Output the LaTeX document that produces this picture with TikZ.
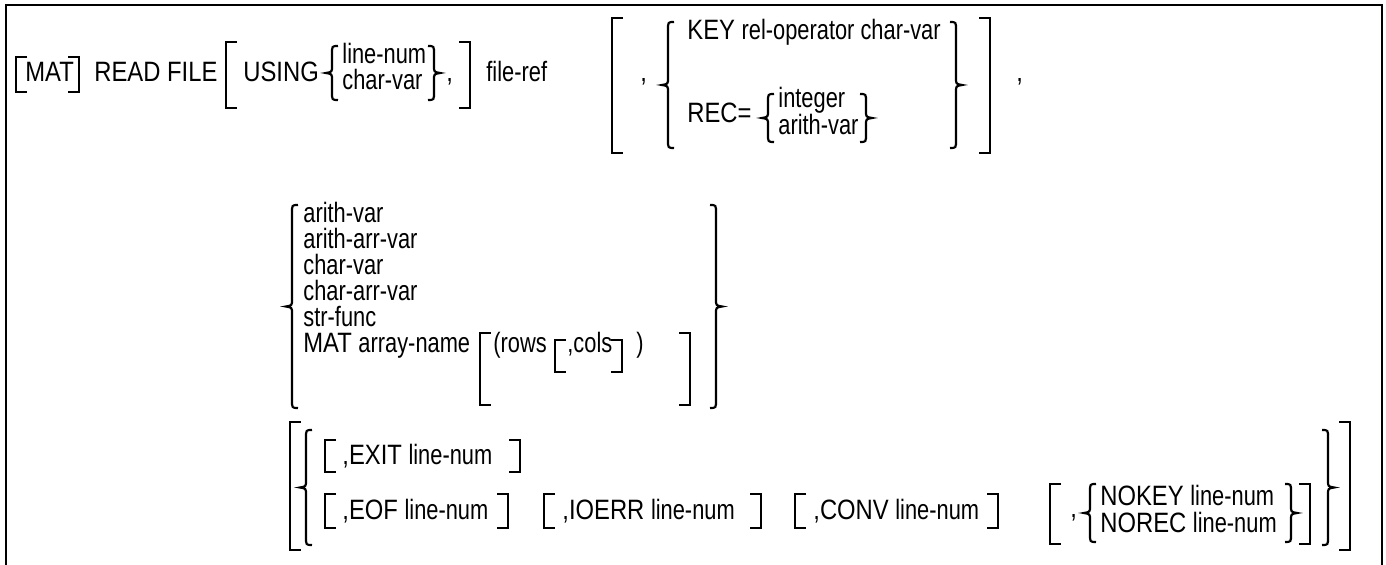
\documentclass[tikz,border=0pt]{standalone}
\usepackage{fontspec}
\setmainfont[FakeStretch=0.85]{Liberation Sans}
\newfontfamily\nw[FakeStretch=0.78]{Liberation Sans}

\begin{document}
\begin{tikzpicture}[x=0.5pt,y=-0.5pt,line cap=butt,line join=miter,
  brk/.style={line width=1.4pt},
  brc/.style={line width=1.1pt},
  frame/.style={line width=1pt},
  txt/.style={anchor=base west,inner sep=0pt,font=\fontsize{14}{16}\selectfont}]
  \useasboundingbox (0,0) rectangle (1386,565);
  \draw[frame] (6,565) -- (6,5) -- (1382,5) -- (1382,565);

  % first line
  \node[txt] (mat) at (25,82) {MAT};
  \node[txt] (readfile) at (94,82) {READ FILE};
  \node[txt] (using) at (243,82) {USING};
  \node[txt] (lnum) at (342,64) {\nw line-num};
  \node[txt] (cvar) at (342,90) {\nw char-var};
  \node[txt] (cma1) at (446,82) {,};
  \node[txt] (fref) at (486,82) {\nw file-ref};
  \node[txt] (cma2) at (640,82) {,};
  \node[txt] (key) at (687,40) {KEY {\nw rel-operator char-var}};
  \node[txt] (rec) at (687,123) {REC=};
  \node[txt] (intg) at (778,108) {\nw integer};
  \node[txt] (avar) at (778,135) {\nw arith-var};
  \node[txt] (cma3) at (1016,82) {,};

  % second line
  \node[txt] (arvar) at (303,223) {\nw arith-var};
  \node[txt] (ararr) at (303,249) {\nw arith-arr-var};
  \node[txt] (chvar) at (303,275) {\nw char-var};
  \node[txt] (charr) at (303,301) {\nw char-arr-var};
  \node[txt] (sfunc) at (303,327) {\nw str-func};
  \node[txt] (matarr) at (303,353) {MAT {\nw array-name}};
  \node[txt] (rows) at (493,353) {\nw (rows};
  \node[txt] (cols) at (567,353) {\nw ,cols};
  \node[txt] (rpar) at (636,353) {\nw )};

  % third line
  \node[txt] (exit) at (342,465) {,EXIT {\nw line-num}};
  \node[txt] (eof) at (342,520) {,EOF {\nw line-num}};
  \node[txt] (ioerr) at (562,520) {,IOERR {\nw line-num}};
  \node[txt] (conv) at (813,520) {,CONV {\nw line-num}};
  \node[txt] (cma4) at (1070,518) {,};
  \node[txt] (nokey) at (1100,506) {NOKEY {\nw line-num}};
  \node[txt] (norec) at (1100,533) {NOREC {\nw line-num}};

  % square brackets
  \foreach \x/\a/\b in {16/57/92, 226/42/108, 612/18/153,
      480/333/405, 555/340/372, 290/422/550, 325/440/472, 325/494/528,
      544/494/528, 795/494/528, 1050/484/544}
    \draw[brk] (\x+11,\a) -- (\x,\a) -- (\x,\b) -- (\x+11,\b);
  \foreach \x/\a/\b in {79/57/92, 470/42/108, 990/18/153,
      622/340/372, 690/333/405, 520/440/472, 508/494/528,
      761/494/528, 998/494/528, 1310/484/544, 1350/422/550}
    \draw[brk] (\x-11,\a) -- (\x,\a) -- (\x,\b) -- (\x-11,\b);

  % braces
  \foreach \x/\a/\b in {326/46/100, 662/22/148, 762/94/142, 286/205/408,
      300/430/545, 1084/484/542}
    \draw[brc] (\x+12,\a) .. controls (\x+6,\a) .. (\x+6,\a+8)
      -- (\x+6,{(\a+\b)/2-7}) .. controls (\x+6,{(\a+\b)/2-1}) .. (\x,{(\a+\b)/2})
      .. controls (\x+6,{(\a+\b)/2+1}) .. (\x+6,{(\a+\b)/2+7})
      -- (\x+6,\b-8) .. controls (\x+6,\b) .. (\x+12,\b);
  \foreach \x/\a/\b in {440/46/100, 962/22/148, 872/94/142, 722/205/408,
      1297/484/542, 1334/430/545}
    \draw[brc] (\x-12,\a) .. controls (\x-6,\a) .. (\x-6,\a+8)
      -- (\x-6,{(\a+\b)/2-7}) .. controls (\x-6,{(\a+\b)/2-1}) .. (\x,{(\a+\b)/2})
      .. controls (\x-6,{(\a+\b)/2+1}) .. (\x-6,{(\a+\b)/2+7})
      -- (\x-6,\b-8) .. controls (\x-6,\b) .. (\x-12,\b);
\end{tikzpicture}
\end{document}
